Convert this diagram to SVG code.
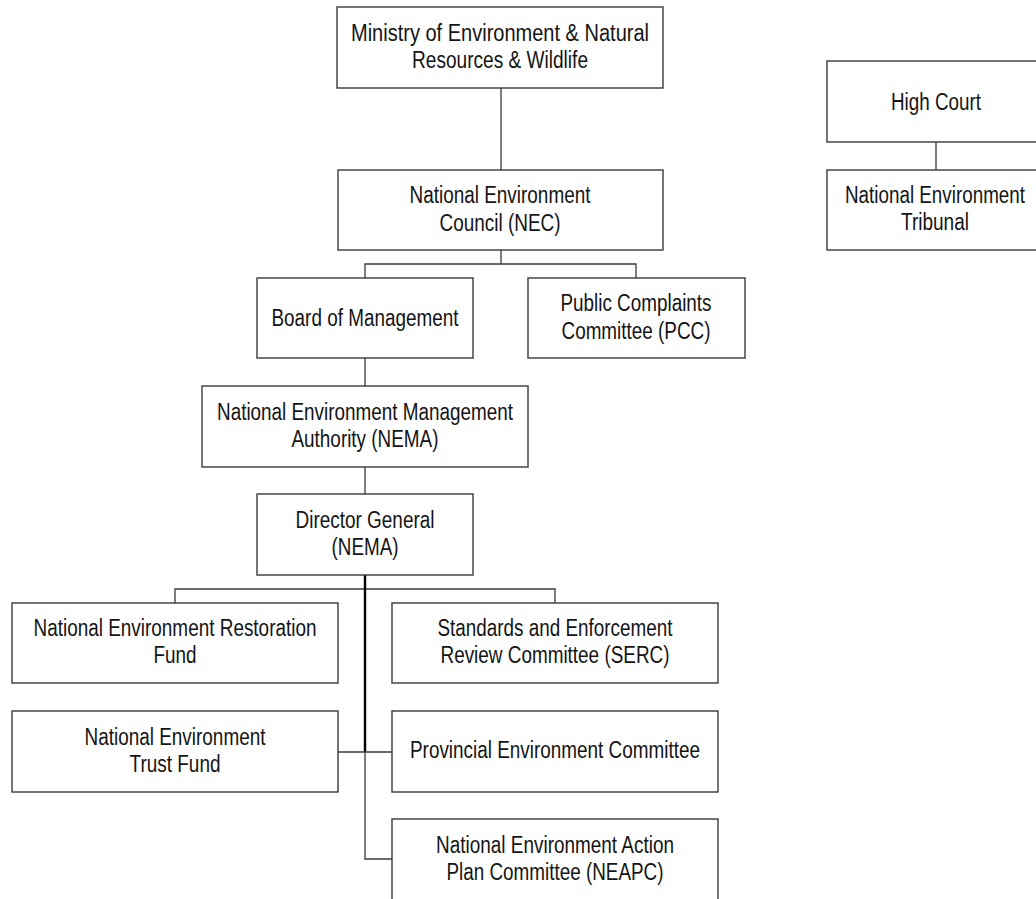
<svg xmlns="http://www.w3.org/2000/svg" width="1036" height="899" viewBox="0 0 1036 899">
<style>
.box{fill:#fff;stroke:#3a3a3a;stroke-width:1.4}
.t{font-family:"Liberation Sans",Arial,sans-serif;font-size:23px;fill:#141414;text-anchor:middle}
.c{fill:none;stroke:#3a3a3a;stroke-width:1.3}
.thick{fill:none;stroke:#000;stroke-width:2.4}
</style>
<rect width="1036" height="899" fill="#fff"/>
<g id="connectors">
<path class="c" d="M501,88V170"/>
<path class="c" d="M501,250V264M365,278V264H636V278"/>
<path class="c" d="M365,358V386"/>
<path class="c" d="M365,467V494"/>
<path class="c" d="M175,603V589H555V603"/>
<path class="thick" d="M365,575V752"/>
<path class="c" d="M365,752V859H392"/>
<path class="c" d="M338,752H392"/>
<path class="c" d="M936,142V170"/>
</g>
<g id="ministry"><rect class="box" x="337" y="7" width="326" height="81"/><text class="t" x="500" y="41" textLength="298" lengthAdjust="spacingAndGlyphs">Ministry of Environment &amp; Natural</text><text class="t" x="500" y="68" textLength="176" lengthAdjust="spacingAndGlyphs">Resources &amp; Wildlife</text></g>
<g id="nec"><rect class="box" x="338" y="170" width="325" height="80"/><text class="t" x="500" y="203" textLength="181" lengthAdjust="spacingAndGlyphs">National Environment</text><text class="t" x="500" y="231" textLength="121" lengthAdjust="spacingAndGlyphs">Council (NEC)</text></g>
<g id="board"><rect class="box" x="257" y="278" width="216" height="80"/><text class="t" x="365" y="326" textLength="187" lengthAdjust="spacingAndGlyphs">Board of Management</text></g>
<g id="pcc"><rect class="box" x="528" y="278" width="217" height="80"/><text class="t" x="636" y="311" textLength="151" lengthAdjust="spacingAndGlyphs">Public Complaints</text><text class="t" x="636" y="339" textLength="149" lengthAdjust="spacingAndGlyphs">Committee (PCC)</text></g>
<g id="nema"><rect class="box" x="202" y="386" width="326" height="81"/><text class="t" x="365" y="420" textLength="296" lengthAdjust="spacingAndGlyphs">National Environment Management</text><text class="t" x="365" y="447" textLength="147" lengthAdjust="spacingAndGlyphs">Authority (NEMA)</text></g>
<g id="dg"><rect class="box" x="257" y="494" width="216" height="81"/><text class="t" x="365" y="528" textLength="139" lengthAdjust="spacingAndGlyphs">Director General</text><text class="t" x="365" y="555" textLength="67" lengthAdjust="spacingAndGlyphs">(NEMA)</text></g>
<g id="restoration"><rect class="box" x="12" y="603" width="326" height="80"/><text class="t" x="175" y="636" textLength="283" lengthAdjust="spacingAndGlyphs">National Environment Restoration</text><text class="t" x="175" y="663" textLength="43" lengthAdjust="spacingAndGlyphs">Fund</text></g>
<g id="serc"><rect class="box" x="392" y="603" width="326" height="80"/><text class="t" x="555" y="636" textLength="235" lengthAdjust="spacingAndGlyphs">Standards and Enforcement</text><text class="t" x="555" y="663" textLength="229" lengthAdjust="spacingAndGlyphs">Review Committee (SERC)</text></g>
<g id="trust"><rect class="box" x="12" y="711" width="326" height="81"/><text class="t" x="175" y="745" textLength="181" lengthAdjust="spacingAndGlyphs">National Environment</text><text class="t" x="175" y="772" textLength="91" lengthAdjust="spacingAndGlyphs">Trust Fund</text></g>
<g id="provincial"><rect class="box" x="392" y="711" width="326" height="81"/><text class="t" x="555" y="758" textLength="290" lengthAdjust="spacingAndGlyphs">Provincial Environment Committee</text></g>
<g id="neapc"><rect class="box" x="392" y="819" width="326" height="81"/><text class="t" x="555" y="853" textLength="238" lengthAdjust="spacingAndGlyphs">National Environment Action</text><text class="t" x="555" y="880" textLength="217" lengthAdjust="spacingAndGlyphs">Plan Committee (NEAPC)</text></g>
<g id="highcourt"><rect class="box" x="827" y="61" width="218" height="81"/><text class="t" x="936" y="110" textLength="90" lengthAdjust="spacingAndGlyphs">High Court</text></g>
<g id="tribunal"><rect class="box" x="827" y="170" width="218" height="80"/><text class="t" x="935" y="203" textLength="180" lengthAdjust="spacingAndGlyphs">National Environment</text><text class="t" x="935" y="230" textLength="68" lengthAdjust="spacingAndGlyphs">Tribunal</text></g>
</svg>
